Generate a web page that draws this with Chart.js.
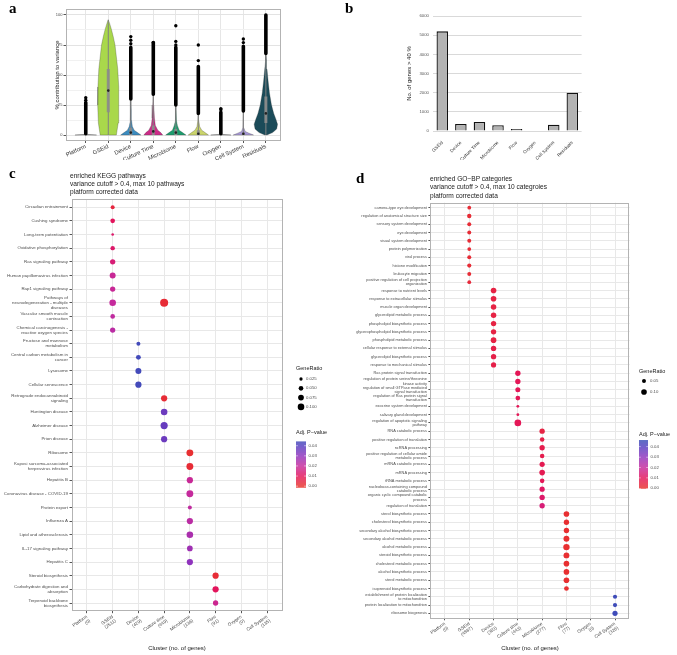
<!DOCTYPE html>
<html>
<head>
<meta charset="utf-8">
<script src="https://cdn.jsdelivr.net/npm/chart.js@4.4.1/dist/chart.umd.min.js"></script>
<style>
  body { margin: 0; background: #fff; font-family: "Liberation Sans", Arial, sans-serif; }
  #fig { position: relative; width: 677px; height: 655px; overflow: hidden; background: #fff; }
  canvas { position: absolute; }
  .letter { position: absolute; font-family: "Liberation Serif", serif; font-weight: bold; font-size: 15px; line-height: 15px; color: #000; }
  .title { position: absolute; font-size: 6.6px; line-height: 8.3px; color: #1a1a1a; white-space: pre; }
</style>
</head>
<body>
<div id="fig">
  <canvas id="ca" width="300" height="160" style="left:0;top:0"></canvas>
  <canvas id="cb" width="337" height="175" style="left:340px;top:0"></canvas>
  <canvas id="cc" width="340" height="495" style="left:0;top:160px"></canvas>
  <canvas id="cd" width="347" height="495" style="left:330px;top:160px"></canvas>
  <div class="letter" style="left:9px;top:1px">a</div>
  <div class="letter" style="left:345px;top:1px">b</div>
  <div class="letter" style="left:9px;top:166px">c</div>
  <div class="letter" style="left:356px;top:171px">d</div>
  <div class="title" style="left:70px;top:171.5px">enriched KEGG pathways
variance cutoff &gt; 0.4, max 10 pathways
platform corrected data</div>
  <div class="title" style="left:430px;top:175px">enriched GO−BP categories
variance cutoff &gt; 0.4, max 10 categroies
platform corrected data</div>
</div>
<script>
// ---- panel a: variance partition violins ----
const catsA = ['Platform', 'GSEid', 'Device', 'Culture Time', 'Microbiome', 'Flow', 'Oxygen', 'Cell System', 'Residuals'];
// [value, half width]
const violinA = [
  [[0, 0.48], [0.6, 0]],
  [[0, 0.36], [10, 0.44], [25, 0.47], [40, 0.46], [55, 0.42], [65, 0.36], [75, 0.3], [82, 0.22], [88, 0.14], [93, 0.06], [96, 0]],
  [[0, 0.45], [2, 0.3], [4, 0.15], [7, 0.07], [12, 0.035], [20, 0.02], [30, 0]],
  [[0, 0.42], [2, 0.33], [4, 0.2], [8, 0.09], [14, 0.05], [25, 0.02], [34, 0]],
  [[0, 0.45], [2, 0.3], [4, 0.15], [8, 0.07], [12, 0.03], [25, 0]],
  [[0, 0.45], [2, 0.3], [4, 0.15], [7, 0.06], [12, 0.02], [18, 0]],
  [[0, 0.45], [0.6, 0]],
  [[0, 0.45], [1.5, 0.25], [3, 0.08], [6, 0.02], [20, 0]],
  [[0, 0.05], [2, 0.3], [5, 0.48], [9, 0.52], [13, 0.45], [18, 0.35], [25, 0.25], [35, 0.16], [45, 0.1], [55, 0.05], [62, 0.025], [68, 0]]
];
const boxLoA = [0, 19, 0, 0, 0, 0, 0, 0, 10];
const boxHiA = [0, 55, 6, 8, 5, 4, 0, 2, 32];
const medianA = [0, 37, 2, 3, 2, 1, 0, 1, 18];
const whiskerHiA = [0, 96, 30, 34, 25, 18, 0, 20, 68];
const outLoA = [1, null, 30, 34, 25, 18, 1, 20, 68];
const outHiA = [27, null, 73, 77, 73, 57, 19, 74, 100];
const outDotsA = [[0, 29], [0, 31], [2, 76], [2, 79], [2, 82], [3, 77], [4, 75], [4, 78], [4, 91], [5, 62], [5, 75], [6, 21], [6, 22], [7, 77], [7, 80]];
const violinColors = ['#9a9a9a', '#a9d84b', '#3b8cc0', '#cc2b88', '#1d9c6e', '#cad46b', '#9a9a9a', '#a697d6', '#1b4b59'];

// ---- panel b: genes above 40 % ----
const catsB = ['GSEid', 'Device', 'Culture Time', 'Microbiome', 'Flow', 'Oxygen', 'Cell System', 'Residuals'];
const genesB = [5200, 370, 470, 300, 110, 0, 330, 2000];

// ---- panel c: KEGG ----
const clustersC = ['Platform\n(0)', 'GSEid\n(2511)', 'Device\n(429)', 'Culture time\n(449)', 'Microbiome\n(136)', 'Flow\n(91)', 'Oxygen\n(0)', 'Cell System\n(135)'];
const keggTerms = [
  'Circadian entrainment', 'Cushing syndrome', 'Long-term potentiation', 'Oxidative phosphorylation',
  'Ras signaling pathway', 'Human papillomavirus infection', 'Rap1 signaling pathway',
  'Pathways of\nneurodegeneration - multiple\ndiseases', 'Vascular smooth muscle\ncontraction',
  'Chemical carcinogenesis -\nreactive oxygen species', 'Fructose and mannose\nmetabolism',
  'Central carbon metabolism in\ncancer', 'Lysosome', 'Cellular senescence',
  'Retrograde endocannabinoid\nsignaling', 'Huntington disease', 'Alzheimer disease', 'Prion disease',
  'Ribosome', 'Kaposi sarcoma-associated\nherpesvirus infection', 'Hepatitis B',
  'Coronavirus disease - COVID-19', 'Protein export', 'Influenza A', 'Lipid and atherosclerosis',
  'IL-17 signaling pathway', 'Hepatitis C', 'Steroid biosynthesis',
  'Carbohydrate digestion and\nabsorption', 'Terpenoid backbone\nbiosynthesis'
];
const keggRow = [0, 1, 2, 3, 4, 5, 6, 7, 7, 8, 9, 10, 11, 12, 13, 14, 15, 16, 17, 18, 19, 20, 21, 22, 23, 24, 25, 26, 27, 28, 29];
const keggCluster = [1, 1, 1, 1, 1, 1, 1, 1, 3, 1, 1, 2, 2, 2, 2, 3, 3, 3, 3, 4, 4, 4, 4, 4, 4, 4, 4, 4, 5, 5, 5];
const keggRatio = [0.037, 0.05, 0.016, 0.045, 0.065, 0.083, 0.065, 0.1, 0.15, 0.05, 0.065, 0.037, 0.055, 0.083, 0.09, 0.09, 0.1, 0.12, 0.09, 0.11, 0.11, 0.09, 0.11, 0.037, 0.09, 0.1, 0.075, 0.09, 0.09, 0.09, 0.065];
const keggPadj = [0.004, 0.010, 0.012, 0.012, 0.014, 0.019, 0.019, 0.020, 0.002, 0.021, 0.022, 0.044, 0.044, 0.044, 0.044, 0.002, 0.036, 0.037, 0.036, 0.001, 0.002, 0.019, 0.020, 0.021, 0.022, 0.025, 0.027, 0.030, 0.002, 0.010, 0.018];

// ---- panel d: GO-BP ----
const clustersD = ['Platform\n(0)', 'GSEid\n(4887)', 'Device\n(363)', 'Culture time\n(443)', 'Microbiome\n(277)', 'Flow\n(77)', 'Oxygen\n(0)', 'Cell System\n(326)'];
const goTerms = [
  'camera-type eye development', 'regulation of anatomical structure size', 'sensory system development', 'eye development',
  'visual system development', 'protein polymerization', 'viral process', 'histone modification', 'leukocyte migration',
  'positive regulation of cell projection\norganization',
  'response to nutrient levels', 'response to extracellular stimulus', 'muscle organ development', 'glycerolipid metabolic process',
  'phospholipid biosynthetic process', 'glycerophospholipid biosynthetic process', 'phospholipid metabolic process',
  'cellular response to external stimulus', 'glycerolipid biosynthetic process', 'response to mechanical stimulus',
  'Ras protein signal transduction', 'regulation of protein serine/threonine\nkinase activity',
  'regulation of small GTPase mediated\nsignal transduction', 'regulation of Ras protein signal\ntransduction',
  'exocrine system development', 'salivary gland development', 'regulation of apoptotic signaling\npathway',
  'RNA catabolic process', 'positive regulation of translation', 'ncRNA processing',
  'positive regulation of cellular amide\nmetabolic process', 'mRNA catabolic process', 'mRNA processing', 'tRNA metabolic process',
  'nucleobase-containing compound\ncatabolic process', 'organic cyclic compound catabolic\nprocess', 'regulation of translation',
  'sterol biosynthetic process', 'cholesterol biosynthetic process', 'secondary alcohol biosynthetic process',
  'secondary alcohol metabolic process', 'alcohol metabolic process', 'steroid biosynthetic process',
  'cholesterol metabolic process', 'alcohol biosynthetic process', 'sterol metabolic process', 'isoprenoid biosynthetic process',
  'establishment of protein localization\nto mitochondrion', 'protein localization to mitochondrion', 'ribosome biogenesis'
];
const goCluster = [1, 1, 1, 1, 1, 1, 1, 1, 1, 1, 2, 2, 2, 2, 2, 2, 2, 2, 2, 2, 3, 3, 3, 3, 3, 3, 3, 4, 4, 4, 4, 4, 4, 4, 4, 4, 4, 5, 5, 5, 5, 5, 5, 5, 5, 5, 5, 7, 7, 7];
const goRatio = [0.045, 0.06, 0.05, 0.05, 0.05, 0.045, 0.05, 0.055, 0.05, 0.045,
  0.1, 0.1, 0.095, 0.095, 0.09, 0.09, 0.1, 0.09, 0.09, 0.085,
  0.09, 0.09, 0.08, 0.07, 0.025, 0.025, 0.14,
  0.09, 0.065, 0.09, 0.065, 0.085, 0.1, 0.065, 0.085, 0.09, 0.09,
  0.1, 0.09, 0.09, 0.11, 0.13, 0.11, 0.1, 0.1, 0.1, 0.07,
  0.055, 0.055, 0.085];
const goPadj = [0.002, 0.002, 0.002, 0.002, 0.002, 0.002, 0.002, 0.002, 0.002, 0.003,
  0.005, 0.005, 0.005, 0.005, 0.005, 0.005, 0.005, 0.006, 0.006, 0.006,
  0.009, 0.009, 0.009, 0.009, 0.009, 0.009, 0.009,
  0.005, 0.006, 0.007, 0.007, 0.008, 0.008, 0.009, 0.011, 0.012, 0.014,
  0.001, 0.001, 0.001, 0.001, 0.001, 0.001, 0.001, 0.001, 0.001, 0.001,
  0.045, 0.045, 0.045];

const sizeBreaksC = [0.025, 0.05, 0.075, 0.1];
const sizeBreaksD = [0.05, 0.1];
const pBreaks = [0, 0.01, 0.02, 0.03, 0.04];

// colour ramp for adjusted p-values (red -> magenta -> blue)
const pStops = [0, 0.01, 0.02, 0.03, 0.04, 0.047];
const pColors = ['#e8322c', '#e3145c', '#c52a9c', '#8f33bd', '#5540bf', '#3651b6'];

function hexRgb(h) {
  return [parseInt(h.slice(1, 3), 16), parseInt(h.slice(3, 5), 16), parseInt(h.slice(5, 7), 16)];
}
function pColor(p) {
  if (p <= pStops[0]) return pColors[0];
  for (let k = 1; k < pStops.length; k++) {
    if (p <= pStops[k]) {
      const t = (p - pStops[k - 1]) / (pStops[k] - pStops[k - 1]);
      const a = hexRgb(pColors[k - 1]), b = hexRgb(pColors[k]);
      return 'rgb(' + a.map((v, j) => Math.round(v + (b[j] - v) * t)).join(',') + ')';
    }
  }
  return pColors[pColors.length - 1];
}

Chart.defaults.font.family = '"Liberation Sans", Arial, sans-serif';
Chart.defaults.color = '#4d4d4d';

const panelBorder = {
  id: 'panelBorder',
  beforeDatasetsDraw(chart, args, opts) {
    if (!opts.color) return;
    const { ctx, chartArea: a } = chart;
    ctx.save();
    ctx.strokeStyle = opts.color;
    ctx.lineWidth = 1;
    ctx.strokeRect(Math.round(a.left) + 0.5, Math.round(a.top) + 0.5, Math.round(a.right - a.left) - 1, Math.round(a.bottom - a.top) - 1);
    ctx.restore();
  }
};

function makeLegend(L) {
  return {
    id: 'dotLegend',
    afterDraw(chart) {
      const ctx = chart.ctx;
      ctx.save();
      ctx.textAlign = 'left';
      ctx.textBaseline = 'middle';
      ctx.fillStyle = '#1a1a1a';
      ctx.font = '5.5px "Liberation Sans", Arial, sans-serif';
      ctx.fillText('GeneRatio', L.x, L.sizeTitleY);
      ctx.fillText('Adj. P\u2212value', L.x, L.pTitleY);
      ctx.font = '4.3px "Liberation Sans", Arial, sans-serif';
      L.sizes.forEach((s, k) => {
        const y = L.sizeY0 + k * L.sizeStep;
        ctx.fillStyle = '#000';
        ctx.beginPath();
        ctx.arc(L.dotX, y, L.rScale * Math.sqrt(s), 0, Math.PI * 2);
        ctx.fill();
        ctx.fillStyle = '#4d4d4d';
        ctx.fillText(s.toFixed(L.digits), L.textX, y);
      });
      const h = L.barBottom - L.barTop;
      for (let y = L.barTop; y < L.barBottom; y += 0.5) {
        const v = L.pMin + (L.pMax - L.pMin) * (L.barBottom - y - 0.25) / h;
        ctx.fillStyle = pColor(v);
        ctx.fillRect(L.barX, y, L.barW, 0.6);
      }
      pBreaks.forEach(b => {
        const y = L.barBottom - (b - L.pMin) / (L.pMax - L.pMin) * h;
        ctx.fillStyle = 'rgba(255,255,255,0.8)';
        ctx.fillRect(L.barX, y - 0.3, L.barW * 0.2, 0.6);
        ctx.fillRect(L.barX + L.barW * 0.8, y - 0.3, L.barW * 0.2, 0.6);
        ctx.fillStyle = '#4d4d4d';
        ctx.fillText(b.toFixed(2), L.barX + L.barW + 2.5, y);
      });
      ctx.restore();
    }
  };
}

// ---------- chart a ----------
const datasetsA = [];
violinA.forEach((prof, i) => {
  const right = prof.map(([v, w]) => ({ x: i + w, y: v }));
  const left = prof.slice().reverse().map(([v, w]) => ({ x: i - w, y: v }));
  datasetsA.push({
    data: right.concat(left, [right[0]]),
    backgroundColor: violinColors[i],
    borderColor: 'rgba(50,50,50,0.55)',
    borderWidth: 0.5,
    fill: 'shape',
    pointRadius: 0,
    tension: 0,
    order: 6
  });
});
const whiskerPts = [], boxPts = [], outPts = [];
catsA.forEach((c, i) => {
  if (whiskerHiA[i] > 0) whiskerPts.push({ x: i, y: 0 }, { x: i, y: whiskerHiA[i] }, { x: i, y: null });
  if (boxHiA[i] > boxLoA[i]) boxPts.push({ x: i, y: boxLoA[i] }, { x: i, y: boxHiA[i] }, { x: i, y: null });
  if (outLoA[i] !== null) outPts.push({ x: i, y: outLoA[i] }, { x: i, y: outHiA[i] }, { x: i, y: null });
});
datasetsA.push({ data: whiskerPts, borderColor: '#808080', borderWidth: 1, pointRadius: 0, spanGaps: false, order: 5 });
datasetsA.push({ data: boxPts, borderColor: 'rgba(140,140,140,0.9)', borderWidth: 3, pointRadius: 0, spanGaps: false, order: 4 });
datasetsA.push({ data: outPts, borderColor: '#000', borderWidth: 3.6, borderCapStyle: 'round', pointRadius: 0, spanGaps: false, order: 3 });
datasetsA.push({ data: outDotsA.map(([i, v]) => ({ x: i, y: v })), showLine: false, pointRadius: 1.7, pointBackgroundColor: '#000', pointBorderWidth: 0, order: 2 });
datasetsA.push({ data: medianA.map((m, i) => ({ x: i, y: m })).filter((p, i) => boxHiA[i] > boxLoA[i]), showLine: false, pointRadius: 1.3, pointBackgroundColor: '#222', pointBorderWidth: 0, order: 1 });

new Chart(document.getElementById('ca'), {
  type: 'line',
  data: { datasets: datasetsA },
  options: {
    responsive: false,
    animation: false,
    devicePixelRatio: 1,
    layout: { padding: { left: 49.5, top: 9, right: 19.5, bottom: 0 } },
    plugins: { legend: { display: false }, tooltip: { enabled: false }, panelBorder: { color: '#b3b3b3' } },
    scales: {
      x: {
        type: 'linear', min: -0.9, max: 8.65,
        afterBuildTicks: ax => { ax.ticks = catsA.map((c, i) => ({ value: i })); },
        afterFit: ax => { ax.height = 19; },
        ticks: { autoSkip: false, minRotation: 25, maxRotation: 25, padding: 0, font: { size: 5.8 }, color: '#333', callback: v => catsA[v] },
        grid: { color: '#e6e6e6', tickColor: '#555', tickLength: 2 },
        border: { display: false }
      },
      y: {
        type: 'linear', min: -5, max: 105,
        afterBuildTicks: ax => { ax.ticks = [0, 12.5, 25, 37.5, 50, 62.5, 75, 87.5, 100].map(v => ({ value: v })); },
        afterFit: ax => { ax.width = 16; },
        ticks: { font: { size: 4 }, color: '#4d4d4d', padding: 1, callback: v => (v % 25 === 0 ? v : '') },
        grid: {
          color: ctx => (ctx.tick && ctx.tick.value % 25 === 0 ? '#e3e3e3' : '#f1f1f1'),
          tickColor: ctx => (ctx.tick && ctx.tick.value % 25 === 0 ? '#555' : 'rgba(0,0,0,0)'),
          tickLength: 2
        },
        border: { display: false },
        title: { display: true, text: '% contribution to variance', font: { size: 6 }, color: '#1a1a1a', padding: { top: 4, bottom: 0 } }
      }
    }
  },
  plugins: [panelBorder]
});

// ---------- chart b ----------
new Chart(document.getElementById('cb'), {
  type: 'bar',
  data: {
    labels: catsB,
    datasets: [{ data: genesB, backgroundColor: '#b3b3b3', borderColor: '#111', borderWidth: 1.3, barPercentage: 0.62, categoryPercentage: 1 }]
  },
  options: {
    responsive: false,
    animation: false,
    devicePixelRatio: 1,
    layout: { padding: { left: 62, top: 16, right: 95.4, bottom: 15 } },
    plugins: { legend: { display: false }, tooltip: { enabled: false } },
    scales: {
      x: {
        afterFit: ax => { ax.height = 29; },
        ticks: { autoSkip: false, minRotation: 45, maxRotation: 45, padding: 1, font: { size: 4.6 }, color: '#333' },
        grid: { display: false },
        border: { display: false }
      },
      y: {
        min: 0, max: 6000,
        afterFit: ax => { ax.width = 31; },
        ticks: { stepSize: 1000, font: { size: 4.3 }, color: '#555', padding: 4, callback: v => String(v) },
        grid: { color: '#d9d9d9', drawTicks: false },
        border: { display: false },
        title: { display: true, text: 'No. of genes > 40 %', font: { size: 6 }, color: '#1a1a1a', padding: { top: 4, bottom: 0 } }
      }
    }
  }
});

// ---------- dot plots c and d ----------
function dotChart(id, terms, clusters, rows, cl, ratio, padj, rScale, pad, yWidth, xHeight, fontSize, legend) {
  const pts = rows.map((r, i) => ({ x: cl[i], y: r, ratio: ratio[i], p: padj[i] }));
  return new Chart(document.getElementById(id), {
    type: 'scatter',
    data: {
      datasets: [{
        data: pts,
        pointRadius: ctx => rScale * Math.sqrt(ctx.raw.ratio),
        pointHoverRadius: ctx => rScale * Math.sqrt(ctx.raw.ratio),
        pointBackgroundColor: ctx => pColor(ctx.raw.p),
        pointBorderWidth: 0
      }]
    },
    options: {
      responsive: false,
      animation: false,
      devicePixelRatio: 1,
      layout: { padding: pad },
      plugins: { legend: { display: false }, tooltip: { enabled: false }, panelBorder: { color: '#b3b3b3' } },
      scales: {
        x: {
          type: 'linear', min: -0.6, max: clusters.length - 0.4,
          afterBuildTicks: ax => { ax.ticks = clusters.map((c, i) => ({ value: i })); },
          afterFit: ax => { ax.height = xHeight; },
          ticks: { autoSkip: false, minRotation: 35, maxRotation: 35, padding: 1, font: { size: 4.6, lineHeight: 1.1 }, color: '#4d4d4d', callback: v => clusters[v].split('\n') },
          grid: { color: '#e8e8e8', tickColor: '#555', tickLength: 2 },
          border: { display: false },
          title: { display: true, text: 'Cluster (no. of genes)', font: { size: 6 }, color: '#1a1a1a', padding: { top: 0, bottom: 3 } }
        },
        y: {
          type: 'linear', reverse: true, min: -0.6, max: terms.length - 0.4,
          afterBuildTicks: ax => { ax.ticks = terms.map((t, i) => ({ value: i })); },
          afterFit: ax => { ax.width = yWidth; },
          ticks: { autoSkip: false, padding: 1.5, font: { size: fontSize, lineHeight: 1.15 }, color: '#4d4d4d', callback: v => terms[v].split('\n') },
          grid: { color: '#e8e8e8', tickColor: '#555', tickLength: 2 },
          border: { display: false }
        }
      }
    },
    plugins: [panelBorder, makeLegend(legend)]
  });
}

dotChart('cc', keggTerms, clustersC, keggRow, keggCluster, keggRatio, keggPadj, 10.4,
  { left: 0, top: 39, right: 57.5, bottom: 0 }, 71.5, 43.8, 4.4,
  { x: 296, sizeTitleY: 208, sizes: sizeBreaksC, digits: 3, sizeY0: 219, sizeStep: 9.3, dotX: 301, textX: 306, rScale: 10.4,
    pTitleY: 272, barX: 296, barW: 10, barTop: 281.5, barBottom: 327.5, pMin: -0.0014, pMax: 0.0443 });

dotChart('cd', goTerms, clustersD, goTerms.map((t, i) => i), goCluster, goRatio, goPadj, 8.9,
  { left: 0, top: 42.7, right: 47.4, bottom: 0 }, 100.4, 36.7, 3.9,
  { x: 309, sizeTitleY: 211.7, sizes: sizeBreaksD, digits: 2, sizeY0: 221, sizeStep: 11, dotX: 314, textX: 320, rScale: 8.9,
    pTitleY: 274, barX: 309, barW: 9, barTop: 280, barBottom: 328.3, pMin: 0, pMax: 0.0465 });
</script>
</body>
</html>
